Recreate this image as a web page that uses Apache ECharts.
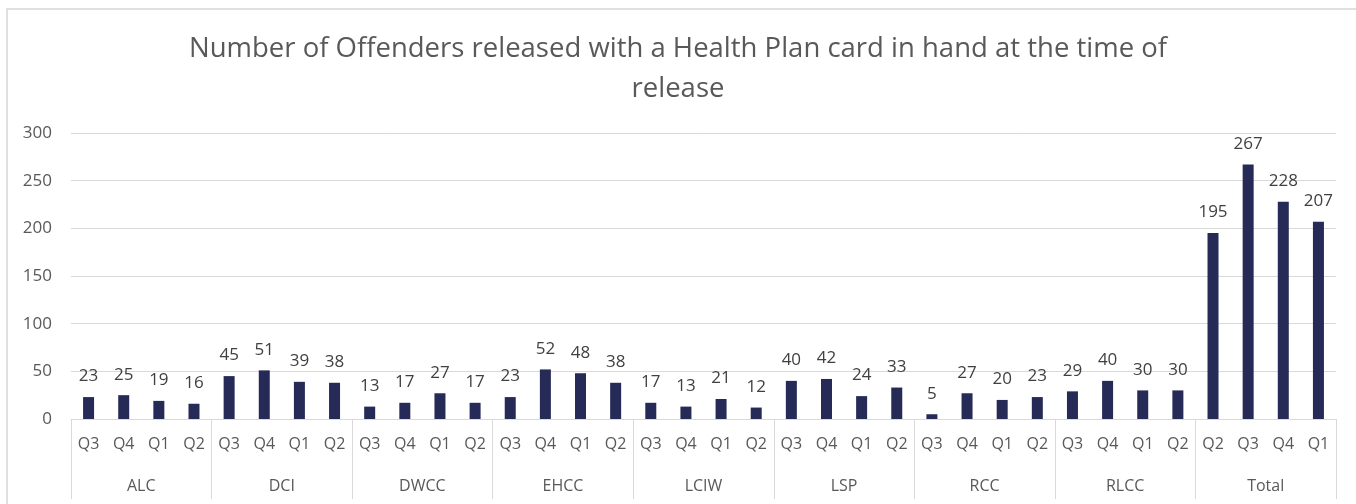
<!DOCTYPE html>
<html>
<head>
<meta charset="utf-8">
<script src="https://cdn.jsdelivr.net/npm/echarts@6/dist/echarts.min.js"></script>
<style>
  body { margin: 0; background: #fff; }
  #frame { position: absolute; left: 6px; top: 8px; width: 1400px; height: 600px; border: 2px solid #e0e0e0; }
  #chart { position: absolute; left: 0; top: 0; width: 1356px; height: 504px; }
</style>
</head>
<body>
<div id="frame"></div>
<div id="chart"></div>
<script>
const groups = ['ALC', 'DCI', 'DWCC', 'EHCC', 'LCIW', 'LSP', 'RCC', 'RLCC', 'Total'];
const quarters = [
  'Q3', 'Q4', 'Q1', 'Q2', 'Q3', 'Q4', 'Q1', 'Q2', 'Q3', 'Q4', 'Q1', 'Q2',
  'Q3', 'Q4', 'Q1', 'Q2', 'Q3', 'Q4', 'Q1', 'Q2', 'Q3', 'Q4', 'Q1', 'Q2',
  'Q3', 'Q4', 'Q1', 'Q2', 'Q3', 'Q4', 'Q1', 'Q2', 'Q2', 'Q3', 'Q4', 'Q1'
];
const released = [
  23, 25, 19, 16,
  45, 51, 39, 38,
  13, 17, 27, 17,
  23, 52, 48, 38,
  17, 13, 21, 12,
  40, 42, 24, 33,
  5, 27, 20, 23,
  29, 40, 30, 30,
  195, 267, 228, 207
];
const yTicks = { min: 0, max: 300, interval: 50 };

const font = 'Open Sans';
const grey = '#595959';

const chart = echarts.init(document.getElementById('chart'));
chart.setOption({
  animation: false,
  title: {
    text: 'Number of Offenders released with a Health Plan card in hand at the time of\nrelease',
    left: 'center',
    top: 24,
    textStyle: { fontFamily: font, fontSize: 27.5, fontWeight: 'normal', color: grey, lineHeight: 40 }
  },
  grid: { left: 71, right: 20, top: 133, bottom: 85 },
  xAxis: [
    {
      type: 'category',
      data: quarters,
      axisLine: { lineStyle: { color: '#d9d9d9' } },
      axisTick: { show: false },
      axisLabel: { interval: 0, margin: 17, fontFamily: font, fontSize: 16, color: grey }
    },
    {
      type: 'category',
      data: groups,
      position: 'bottom',
      axisLine: { show: false },
      axisTick: { show: true, length: 80, interval: 0, lineStyle: { color: '#d9d9d9' } },
      axisLabel: { interval: 0, margin: 59, fontFamily: font, fontSize: 16, color: grey }
    }
  ],
  yAxis: {
    type: 'value',
    min: yTicks.min,
    max: yTicks.max,
    interval: yTicks.interval,
    axisLine: { show: false },
    axisTick: { show: false },
    splitLine: { lineStyle: { color: '#d9d9d9' } },
    axisLabel: { margin: 19, fontFamily: font, fontSize: 17, color: grey }
  },
  series: [
    {
      type: 'bar',
      data: released,
      xAxisIndex: 0,
      barWidth: 11,
      itemStyle: { color: '#252a57' },
      label: { show: true, position: 'top', distance: 12, fontFamily: font, fontSize: 17, color: '#404040' }
    }
  ]
});
</script>
</body>
</html>
